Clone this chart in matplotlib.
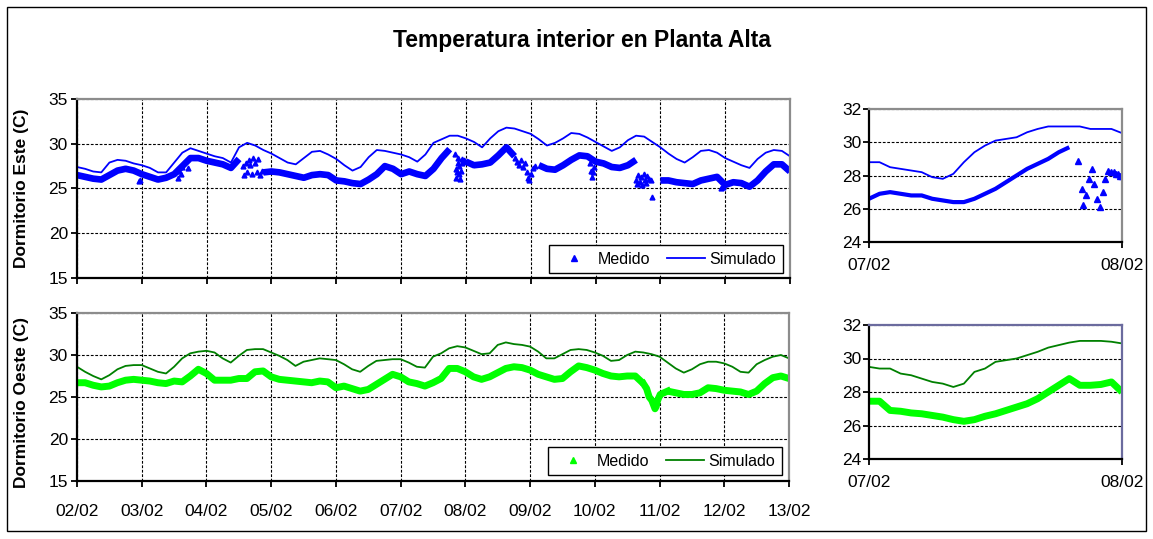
import numpy as np
import matplotlib
matplotlib.use("Agg")
import matplotlib.pyplot as plt
from matplotlib.lines import Line2D
from matplotlib.patches import Rectangle

plt.rcParams['font.family'] = ['Liberation Sans', 'DejaVu Sans']

W, H = 1153, 539
nan = np.nan

# ---------------- datos ----------------
fechas = ['02/02', '03/02', '04/02', '05/02', '06/02', '07/02',
          '08/02', '09/02', '10/02', '11/02', '12/02', '13/02']
fechas_det = ['07/02', '08/02']

# muestras cada 3 h, en días desde 02/02 00:00
dias = np.arange(0, 11.001, 0.125)

este_sim = [
    27.4, 27.2, 26.9, 26.8, 27.9, 28.2, 28.1, 27.8,   # 02/02
    27.6, 27.3, 26.8, 26.8, 27.9, 29.0, 29.5, 29.2,   # 03/02
    28.9, 28.6, 28.4, 27.9, 29.6, 30.1, 29.8, 29.3,   # 04/02
    28.9, 28.4, 27.9, 27.7, 28.4, 29.1, 29.2, 28.8,   # 05/02
    28.3, 27.6, 27.0, 27.4, 28.5, 29.3, 29.2, 29.0,   # 06/02
    28.8, 28.5, 28.0, 28.8, 30.1, 30.5, 30.9, 30.9,   # 07/02
    30.6, 30.2, 29.6, 30.6, 31.4, 31.8, 31.7, 31.4,   # 08/02
    31.1, 30.5, 29.8, 30.1, 30.6, 31.2, 31.1, 30.7,   # 09/02
    30.2, 29.7, 29.2, 29.6, 30.4, 30.9, 30.8, 30.2,   # 10/02
    29.6, 28.9, 28.3, 27.9, 28.5, 29.2, 29.3, 29.0,   # 11/02
    28.4, 28.0, 27.6, 27.3, 28.3, 29.0, 29.3, 29.2,   # 12/02
    28.6]

este_med = [
    26.5, 26.3, 26.1, 26.0, 26.5, 27.0, 27.2, 27.0,
    26.6, 26.3, 26.0, 26.2, 26.6, 27.5, 28.4, 28.4,
    28.1, 27.9, 27.7, 27.3, 28.3, nan, nan, 26.8,
    26.9, 26.8, 26.6, 26.4, 26.2, 26.5, 26.6, 26.5,
    25.9, 25.8, 25.6, 25.5, 26.0, 26.6, 27.5, 27.2,
    26.6, 26.9, 26.6, 26.4, 27.2, 28.4, 29.4, nan,
    28.0, 27.6, 27.7, 27.9, 28.7, 29.6, 28.6, nan,
    nan, 27.6, 27.2, 27.1, 27.6, 28.2, 28.7, 28.6,
    28.0, 27.8, 27.4, 27.3, 27.6, 28.2, nan, nan,
    25.9, 25.9, 25.7, 25.6, 25.5, 25.9, 26.1, 26.3,
    25.4, 25.7, 25.6, 25.2, 25.9, 26.9, 27.7, 27.7,
    26.9]

# lecturas sueltas (saltos del sensor)
este_sueltos_t = [0.95, 0.97, 1.56, 1.58, 1.60, 1.62, 1.72,
                  2.56, 2.58, 2.60, 2.62, 2.65, 2.67, 2.70, 2.72, 2.75, 2.77, 2.80, 2.83, 2.85,
                  5.827, 5.842, 5.846, 5.858, 5.871, 5.883, 5.888, 5.90, 5.913, 5.925,
                  5.933, 5.946, 5.967, 5.983,
                  6.76, 6.79, 6.82, 6.85, 6.88, 6.91, 6.94, 6.96, 6.98, 7.00, 7.03, 7.06,
                  7.91, 7.93, 7.94, 7.96, 7.97,
                  8.62, 8.64, 8.66, 8.68, 8.70, 8.72, 8.74, 8.76, 8.78, 8.80, 8.83, 8.85, 8.87,
                  9.93, 9.96]
este_sueltos_v = [25.8, 26.0, 26.2, 27.0, 26.6, 27.4, 27.3,
                  27.5, 26.5, 27.9, 26.8, 28.2, 27.6, 26.6, 28.4, 27.8, 26.8, 28.3, 26.5, 27.0,
                  28.9, 27.2, 26.2, 26.8, 27.8, 28.4, 27.5, 26.6, 26.1, 27.0,
                  27.8, 28.3, 28.2, 28.1,
                  28.4, 28.0, 27.6, 28.2, 27.4, 27.8, 26.8, 26.2, 25.9, 26.6, 27.3, 27.5,
                  27.8, 27.0, 26.3, 26.8, 27.4,
                  26.0, 25.5, 26.5, 25.7, 26.3, 25.4, 26.6, 26.0, 25.6, 26.4, 26.1, 25.9, 24.1,
                  25.0, 25.2]

oeste_sim = [
    28.6, 28.0, 27.5, 27.1, 27.6, 28.3, 28.7, 28.8,
    28.8, 28.4, 28.0, 27.8, 28.6, 29.6, 30.2, 30.4,
    30.5, 30.3, 29.6, 29.1, 29.9, 30.6, 30.7, 30.7,
    30.3, 29.9, 29.4, 28.7, 29.2, 29.4, 29.6, 29.5,
    29.4, 28.9, 28.3, 28.0, 28.7, 29.3, 29.4, 29.5,
    29.5, 29.1, 28.6, 28.5, 29.8, 30.2, 30.8, 31.05,
    30.9, 30.5, 30.1, 30.2, 31.2, 31.5, 31.3, 31.2,
    31.0, 30.4, 29.6, 29.6, 30.1, 30.6, 30.7, 30.6,
    30.3, 29.9, 29.3, 29.4, 30.0, 30.4, 30.3, 30.1,
    29.8, 29.1, 28.4, 27.9, 28.3, 28.9, 29.2, 29.2,
    29.0, 28.6, 28.0, 27.9, 28.9, 29.4, 29.8, 30.0,
    29.6]

oeste_med = [
    26.7, 26.7, 26.4, 26.2, 26.3, 26.7, 27.0, 27.1,
    27.0, 26.9, 26.7, 26.6, 26.9, 26.8, 27.5, 28.3,
    27.8, 27.0, 27.0, 27.0, 27.2, 27.2, 28.0, 28.1,
    27.4, 27.1, 27.0, 26.9, 26.8, 26.7, 26.9, 26.8,
    26.1, 26.3, 26.0, 25.7, 25.9, 26.5, 27.1, 27.7,
    27.4, 26.8, 26.6, 26.3, 26.7, 27.2, 28.4, 28.4,
    28.0, 27.4, 27.1, 27.4, 27.9, 28.4, 28.6, 28.5,
    28.2, 27.7, 27.4, 27.1, 27.2, 28.0, 28.7, 28.5,
    28.2, 27.8, 27.5, 27.4, 27.5, 27.5, 26.6, nan,
    nan, 25.7, 25.5, 25.3, 25.3, 25.5, 26.1, 26.0,
    25.8, 25.7, 25.6, 25.3, 25.7, 26.6, 27.3, 27.5,
    27.2]

# caída de la madrugada del 11/02
oeste_caida_t = [8.75, 8.80, 8.84, 8.88, 8.91, 8.93, 8.95, 8.97, 9.01, 9.125]
oeste_caida_v = [26.6, 26.0, 25.0, 24.6, 24.0, 23.6, 23.9, 24.6, 25.3, 25.7]

# detalle horario del 07/02
horas = np.arange(25)
det_este_sim = [28.8, 28.8, 28.5, 28.4, 28.3, 28.2, 27.9, 27.8, 28.1, 28.8, 29.4, 29.8, 30.1,
                30.2, 30.3, 30.6, 30.8, 30.95, 30.95, 30.95, 30.95, 30.8, 30.8, 30.8, 30.55]
det_este_med = [26.6, 26.9, 27.0, 26.9, 26.8, 26.8, 26.6, 26.5, 26.4, 26.4, 26.6, 26.9, 27.2,
                27.6, 28.0, 28.4, 28.7, 29.0, 29.4, 29.7, nan, nan, nan, nan, nan]
det_este_sueltos_h = [19.85, 20.2, 20.3, 20.6, 20.9, 21.2, 21.3, 21.6, 21.9, 22.2,
                      22.4, 22.7, 23.0, 23.2, 23.4, 23.6, 23.8, 24.0]
det_este_sueltos_v = [28.9, 27.2, 26.2, 26.8, 27.8, 28.4, 27.5, 26.6, 26.1, 27.0,
                      27.8, 28.3, 28.2, 28.2, 28.1, 28.1, 28.0, 28.0]
det_oeste_sim = [29.5, 29.4, 29.4, 29.1, 29.0, 28.8, 28.6, 28.5, 28.3, 28.5, 29.2, 29.4, 29.8,
                 29.9, 30.0, 30.2, 30.4, 30.65, 30.8, 30.95, 31.05, 31.05, 31.05, 31.0, 30.9]
det_oeste_med = [27.45, 27.45, 26.9, 26.85, 26.75, 26.7, 26.6, 26.5, 26.35, 26.25, 26.35, 26.55,
                 26.7, 26.9, 27.1, 27.3, 27.6, 28.0, 28.4, 28.8, 28.4, 28.4, 28.45, 28.6, 28.0]

AZUL = '#0000FF'
VERDE_OSC = '#008000'
VERDE = '#00FF00'


def px_ax(left, top, right, bottom):
    # rectángulo en píxeles -> coordenadas de figura
    return [left / W, 1 - bottom / H, (right - left) / W, (bottom - top) / H]


def estilo(ax, y0, y1, paso, solo_y=False):
    ax.set_ylim(y0, y1)
    ax.set_yticks(np.arange(y0, y1 + 0.1, paso))
    ax.set_axisbelow(True)
    ax.grid(True, axis='y' if solo_y else 'both', color='black',
            linestyle=(0, (2.5, 1.5)), linewidth=0.8)
    for lado in ['left', 'bottom']:
        ax.spines[lado].set_color('black')
        ax.spines[lado].set_linewidth(1.6)
    for lado in ['top', 'right']:
        ax.spines[lado].set_color('#8c8c8c')
        ax.spines[lado].set_linewidth(1.6)
    ax.tick_params(direction='out', length=4.5, width=1.3, labelsize=12.5, pad=2)


fig = plt.figure(figsize=(W / 100, H / 100), dpi=100)
fig.patches.append(Rectangle((7 / W, 8 / H), 1139 / W, 524 / H, transform=fig.transFigure,
                             fill=False, ec='black', lw=1.0))
fig.text(582 / W, 1 - 41 / H, 'Temperatura interior en Planta Alta',
         ha='center', va='center', fontsize=16.5, fontweight='bold')

ax1 = fig.add_axes(px_ax(77, 99, 790, 278))
ax2 = fig.add_axes(px_ax(77, 313, 789, 481))
ax3 = fig.add_axes(px_ax(869, 109, 1122, 242))
ax4 = fig.add_axes(px_ax(869, 325, 1122, 459))

# --- Dormitorio Este ---
ax1.plot(dias, este_med, color=AZUL, lw=4.8, solid_capstyle='butt')
ax1.plot(este_sueltos_t, este_sueltos_v, color=AZUL, marker='^', ms=3.5, ls='none')
ax1.plot(dias, este_sim, color=AZUL, lw=1.3)
estilo(ax1, 15, 35, 5)
ax1.set_xlim(0, 11)
ax1.set_xticks(range(12))
ax1.tick_params(axis='x', labelbottom=False)

# --- Dormitorio Oeste ---
ax2.plot(dias, oeste_med, color=VERDE, lw=5, solid_capstyle='butt')
ax2.plot(oeste_caida_t, oeste_caida_v, color=VERDE, lw=5)
ax2.plot(dias, oeste_sim, color=VERDE_OSC, lw=1.3)
estilo(ax2, 15, 35, 5)
ax2.set_xlim(0, 11)
ax2.set_xticks(range(12))
ax2.set_xticklabels(fechas)
ax2.tick_params(axis='x', pad=12)

fig.text(22 / W, 1 - 188 / H, 'Dormitorio Este (C)', rotation=90, ha='center', va='center',
         fontsize=12.5, fontweight='bold')
fig.text(22 / W, 1 - 403 / H, 'Dormitorio Oeste (C)', rotation=90, ha='center', va='center',
         fontsize=12.5, fontweight='bold')

# leyendas
for ax, c_med, c_sim, by in [(ax1, AZUL, AZUL, 0.028), (ax2, VERDE, VERDE_OSC, 0.036)]:
    handles = [Line2D([], [], color=c_med, marker='^', ms=4, ls='none'),
               Line2D([], [], color=c_sim, lw=1.3)]
    leg = ax.legend(handles, ['Medido', 'Simulado'], ncol=2, loc='lower right',
                    bbox_to_anchor=(0.99, by), borderaxespad=0, fontsize=11.5,
                    handlelength=2.4, handletextpad=0.3, columnspacing=1.0,
                    borderpad=0.4, fancybox=False, framealpha=1, edgecolor='black')
    leg.get_frame().set_linewidth(1.0)

# --- detalle 07/02 ---
t_det = 5 + horas / 24
ax3.plot(t_det, det_este_med, color=AZUL, lw=3, solid_capstyle='butt')
ax3.plot(5 + np.array(det_este_sueltos_h) / 24, det_este_sueltos_v, color=AZUL,
         marker='^', ms=4, ls='none')
ax3.plot(t_det, det_este_sim, color=AZUL, lw=1.3)
estilo(ax3, 24, 32, 2, solo_y=True)

ax4.plot(t_det, det_oeste_med, color=VERDE, lw=5, solid_capstyle='butt')
ax4.plot(t_det, det_oeste_sim, color=VERDE_OSC, lw=1.3)
estilo(ax4, 24, 32, 2, solo_y=True)
ax4.spines['top'].set_color('#6b6b9e')
ax4.spines['right'].set_color('#6b6b9e')

for ax in [ax3, ax4]:
    ax.set_xlim(5, 6)
    ax.set_xticks([5, 6])
    ax.set_xticklabels(fechas_det)
    ax.tick_params(axis='x', pad=7)
    ax.tick_params(axis='y', pad=1)

fig.savefig('out.png', dpi=100)
